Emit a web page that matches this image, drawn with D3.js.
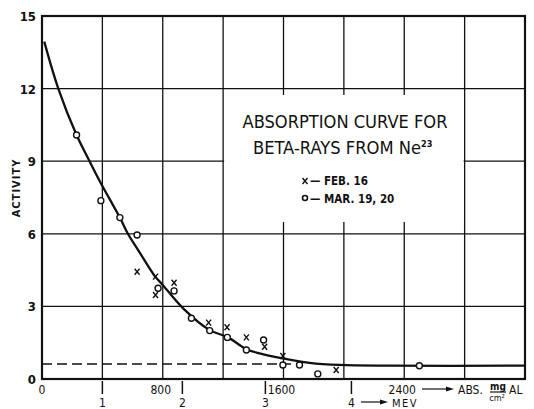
<!DOCTYPE html>
<html><head><meta charset="utf-8">
<script src="https://cdn.jsdelivr.net/npm/d3@7"></script>
<style>
html,body{margin:0;padding:0;background:#fff;}
svg{display:block;}
text{font-family:"DejaVu Sans Condensed","Liberation Sans Narrow","Liberation Sans",sans-serif;fill:#111;}
</style></head><body>
<script>
// ---- data ----
const xTicks = [0, 800, 1600, 2400];
const xGrid = [400, 800, 1200, 1600, 2000, 2400, 2800];
const yTicks = [0, 3, 6, 9, 12, 15];
const yGrid = [3, 6, 9, 12];
const mevTicks = [400, 930, 1480, 2050];
const mevLabels = ["1", "2", "3", "4"];
// curve (hand drawn fit)
const curveX = [15, 108, 229, 311, 390, 516, 571, 637, 750, 791, 935, 1111, 1232, 1354, 1442, 1596, 1772, 1971, 2300, 3200];
const curveY = [13.94, 12.0, 10.08, 9.05, 8.09, 6.67, 5.98, 5.33, 4.23, 3.95, 2.92, 2.02, 1.72, 1.23, 1.06, 0.85, 0.67, 0.58, 0.55, 0.55];
// Mar. 19, 20 (circles)
const marX = [229, 390, 516, 630, 769, 875, 990, 1111, 1228, 1354, 1468, 1596, 1706, 1827, 2500];
const marY = [10.08, 7.37, 6.67, 5.95, 3.75, 3.64, 2.51, 2.0, 1.72, 1.20, 1.61, 0.58, 0.58, 0.21, 0.55];
// Feb. 16 (crosses)
const febX = [630, 752, 752, 875, 1104, 1226, 1354, 1475, 1596, 1949];
const febY = [4.43, 4.23, 3.47, 3.98, 2.33, 2.14, 1.72, 1.33, 0.95, 0.37];
const baseline = 0.62;
const baselineEnd = 1650;

const W = 534, H = 409;
const svg = d3.select("body").append("svg").attr("width", W).attr("height", H);
const x = d3.scaleLinear().domain([0, 3200]).range([42, 525]);
const y = d3.scaleLinear().domain([0, 15]).range([379, 16]);
const ink = "#111";

// gridlines
const g = svg.append("g");
g.selectAll(".vg").data(xGrid).enter().append("line")
  .attr("x1", d => x(d)).attr("x2", d => x(d)).attr("y1", y(15)).attr("y2", y(0))
  .attr("stroke", ink).attr("stroke-width", 1.3);
g.selectAll(".hg").data(yGrid).enter().append("line")
  .attr("x1", x(0)).attr("x2", x(3200)).attr("y1", d => y(d)).attr("y2", d => y(d))
  .attr("stroke", ink).attr("stroke-width", 1.3);
// legend box (white blank area over grid)
svg.append("rect").attr("x", x(1200) + 1).attr("y", 95)
  .attr("width", x(2800) - x(1200) - 2).attr("height", 222 - 95).attr("fill", "#fff");

// frame
svg.append("rect").attr("x", x(0)).attr("y", y(15)).attr("width", x(3200) - x(0)).attr("height", y(0) - y(15))
  .attr("fill", "none").attr("stroke", ink).attr("stroke-width", 2.2);

// y axis labels
svg.selectAll(".yl").data(yTicks).enter().append("text")
  .attr("x", 36).attr("y", d => y(d) + 5).attr("text-anchor", "end")
  .attr("font-size", 13).attr("font-weight", "bold").text(d => d);
svg.append("text").attr("transform", "translate(20,188) rotate(-90)")
  .attr("text-anchor", "middle").attr("font-size", 11).attr("font-weight", "bold")
  .attr("letter-spacing", 1).text("ACTIVITY");

// x axis labels (ABS)
svg.selectAll(".xl").data(xTicks).enter().append("text")
  .attr("x", (d, i) => i === 0 ? x(d) : x(d) - 2).attr("y", 394).attr("text-anchor", "middle")
  .attr("font-size", 12).text(d => d);
// arrow + units
function arrow(x1, x2, yy) {
  svg.append("line").attr("x1", x1).attr("x2", x2 - 5).attr("y1", yy).attr("y2", yy).attr("stroke", ink).attr("stroke-width", 1.2);
  svg.append("path").attr("d", `M${x2 - 8},${yy - 2.5}L${x2},${yy}L${x2 - 8},${yy + 2.5}Z`).attr("fill", ink);
}
arrow(422, 454, 389);
svg.append("text").attr("x", 458).attr("y", 394).attr("font-size", 12).text("ABS.");
svg.append("text").attr("x", 498).attr("y", 390).attr("text-anchor", "middle").attr("font-size", 10).attr("font-weight", "bold").text("mg");
svg.append("line").attr("x1", 490).attr("x2", 506).attr("y1", 392).attr("y2", 392).attr("stroke", ink).attr("stroke-width", 1.2);
svg.append("text").attr("x", 497).attr("y", 401).attr("text-anchor", "middle").attr("font-size", 9).text("cm²");
svg.append("text").attr("x", 509).attr("y", 394).attr("font-size", 12).text("AL");

// MeV scale
svg.selectAll(".mt").data(mevTicks).enter().append("line")
  .attr("x1", d => x(d)).attr("x2", d => x(d)).attr("y1", 381).attr("y2", 394)
  .attr("stroke", ink).attr("stroke-width", 1.5);
svg.selectAll(".ml").data(mevTicks).enter().append("text")
  .attr("x", d => x(d)).attr("y", 407).attr("text-anchor", "middle")
  .attr("font-size", 12).text((d, i) => mevLabels[i]);
arrow(361, 388, 402);
svg.append("text").attr("x", 392).attr("y", 407).attr("font-size", 11).attr("letter-spacing", 1.5).text("MEV");

// dashed baseline
svg.append("line").attr("x1", x(0)).attr("x2", x(baselineEnd)).attr("y1", y(baseline)).attr("y2", y(baseline))
  .attr("stroke", ink).attr("stroke-width", 1.5).attr("stroke-dasharray", "10,5");

// curve
const pts = curveX.map((d, i) => [d, curveY[i]]);
svg.append("path").datum(pts)
  .attr("d", d3.line().x(d => x(d[0])).y(d => y(d[1])).curve(d3.curveCatmullRom.alpha(0.5)))
  .attr("fill", "none").attr("stroke", ink).attr("stroke-width", 2.3);

// crosses
const feb = febX.map((d, i) => [d, febY[i]]);
svg.selectAll(".cx").data(feb).enter().append("path")
  .attr("d", d => { const cx = x(d[0]), cy = y(d[1]); return `M${cx - 2.5},${cy - 3}L${cx + 2.5},${cy + 3}M${cx + 2.5},${cy - 3}L${cx - 2.5},${cy + 3}`; })
  .attr("stroke", ink).attr("stroke-width", 1.4).attr("fill", "none");
// circles
const mar = marX.map((d, i) => [d, marY[i]]);
svg.selectAll(".ci").data(mar).enter().append("circle")
  .attr("cx", d => x(d[0])).attr("cy", d => y(d[1])).attr("r", 3)
  .attr("fill", "#fff").attr("stroke", ink).attr("stroke-width", 1.4);

// legend text
svg.append("text").attr("x", 345).attr("y", 128).attr("text-anchor", "middle")
  .attr("font-size", 17).attr("textLength", 205).attr("lengthAdjust", "spacingAndGlyphs")
  .text("ABSORPTION  CURVE FOR");
const t2 = svg.append("text").attr("x", 253).attr("y", 154).attr("font-size", 17);
t2.append("tspan").attr("textLength", 168).attr("lengthAdjust", "spacingAndGlyphs").text("BETA-RAYS FROM Ne");
t2.append("tspan").attr("dy", -7).attr("font-size", 9).attr("font-weight", "bold").text("23");
// legend entries
svg.append("path").attr("d", `M302.5,178L307.5,184M307.5,178L302.5,184`).attr("stroke", ink).attr("stroke-width", 1.4);
svg.append("text").attr("x", 310).attr("y", 185).attr("font-size", 11.5).attr("font-weight", "bold").text("— FEB. 16");
svg.append("circle").attr("cx", 305).attr("cy", 198).attr("r", 2.5).attr("fill", "#fff").attr("stroke", ink).attr("stroke-width", 1.6);
svg.append("text").attr("x", 310).attr("y", 203).attr("font-size", 11.5).attr("font-weight", "bold").text("— MAR. 19, 20");
</script>
</body></html>
